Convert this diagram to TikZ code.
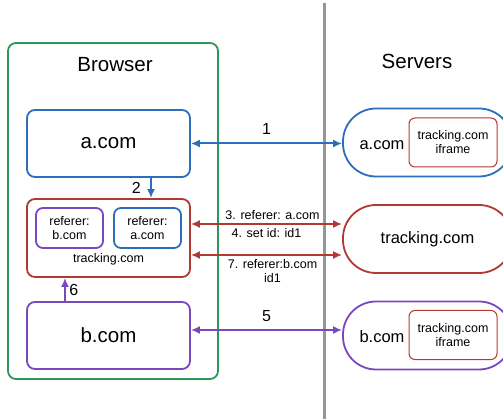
\documentclass[tikz,border=0pt]{standalone}
\usepackage{fontspec}
\setmainfont{Liberation Sans}
\usetikzlibrary{arrows.meta, positioning}
\definecolor{framegreen}{RGB}{46,150,90}
\definecolor{siteblue}{RGB}{43,110,185}
\definecolor{trackred}{RGB}{178,56,52}
\definecolor{sitepurple}{RGB}{122,72,190}
\definecolor{dividergray}{RGB}{150,150,150}
\tikzset{> = { Latex[length = 9pt, width = 8pt] }}

\begin{document}
\begin{tikzpicture}[x = 1pt, y = -1pt, line width = 1.8pt,
    title/.style = { font = \fontsize{20.5}{24}\selectfont },
    num/.style = { text = black, font = \fontsize{16}{19}\selectfont },
    small/.style = { text = black, font = \fontsize{12.5}{14}\selectfont, align = center },
    site/.style = { draw, rounded corners = 8pt, minimum width = 163pt, minimum height = 67pt, font = \fontsize{20.5}{24}\selectfont },
    refbox/.style = { draw, rounded corners = 7pt, minimum width = 67pt, minimum height = 40pt, inner sep = 1pt, small },
    server/.style = { draw, rounded corners = 33pt, minimum width = 169pt, minimum height = 68pt, font = \fontsize{16.5}{19}\selectfont },
    iframe/.style = { draw = trackred, line width = 1pt, rounded corners = 6pt, minimum width = 88pt, minimum height = 49pt, inner sep = 1pt, small },
    link/.style = { line width = 2pt }]
	\useasboundingbox (0, 0) rectangle (503, 419);

	% browser side
	\node [draw = framegreen, rounded corners = 8pt, minimum width = 210pt, minimum height = 336pt] (browser) at (113, 211) {};
	\node [title] (browsertitle) at (115, 65) {Browser};
	\node [site, draw = siteblue] (acom) at (108.5, 143.5) {a.com};
	\node [site, draw = trackred, minimum height = 78pt] (trk) at (108.5, 238) {};
	\node [refbox, draw = sitepurple] (refb) at (69.5, 228) {referer:\\b.com};
	\node [refbox, draw = siteblue] (refa) at (147.5, 228) {referer:\\a.com};
	\node [small] (trkname) at (108.5, 259) {tracking.com};
	\node [site, draw = sitepurple] (bcom) at (108.5, 335.5) {b.com};

	% divider
	\draw [dividergray, line width = 3pt] (324, 3) -- (324, 419);

	% server side
	\node [title] (serverstitle) at (417, 61) {Servers};
	\node [server, draw = siteblue] (srva) at (427.5, 142.5) {};
	\node [font = \fontsize{16.5}{19}\selectfont] (srvaname) at (382, 145) {a.com};
	\node [iframe] (ifra) at (453, 142.5) {tracking.com\\iframe};
	\node [server, draw = trackred] (srvt) at (427.5, 239) {tracking.com};
	\node [server, draw = sitepurple] (srvb) at (427.5, 335.5) {};
	\node [font = \fontsize{16.5}{19}\selectfont] (srvbname) at (382, 337) {b.com};
	\node [iframe] (ifrb) at (453, 335) {tracking.com\\iframe};

	% requests
	\draw [link, <->, siteblue] (acom.east) -- (acom.east -| srva.west) node [midway, above = 5pt, num] {1};
	\draw [link, ->, siteblue] ([xshift = 42.5pt]acom.south) -- ([xshift = 42.5pt]acom.south |- trk.north) node [midway, left = 6pt, num] {2};
	\draw [link, <->, trackred] ([yshift = 14pt]trk.east) -- ([yshift = 14pt]trk.east -| srvt.west)
		node [midway, above, xshift = 6pt, small] {3. referer: a.com}
		node [midway, below, small] {4. set id: id1};
	\draw [link, <->, trackred] ([yshift = -17pt]trk.east) -- ([yshift = -17pt]trk.east -| srvt.west)
		node [midway, below, xshift = 6pt, small] {7. referer:b.com\\id1};
	\draw [link, <->, sitepurple] ([yshift = 5.5pt]bcom.east) -- ([yshift = 5.5pt]bcom.east -| srvb.west) node [midway, above = 4pt, num] {5};
	\draw [link, ->, sitepurple] ([xshift = -43.5pt]bcom.north) -- ([xshift = -43.5pt]bcom.north |- trk.south) node [midway, right, num] {6};
\end{tikzpicture}
\end{document}
